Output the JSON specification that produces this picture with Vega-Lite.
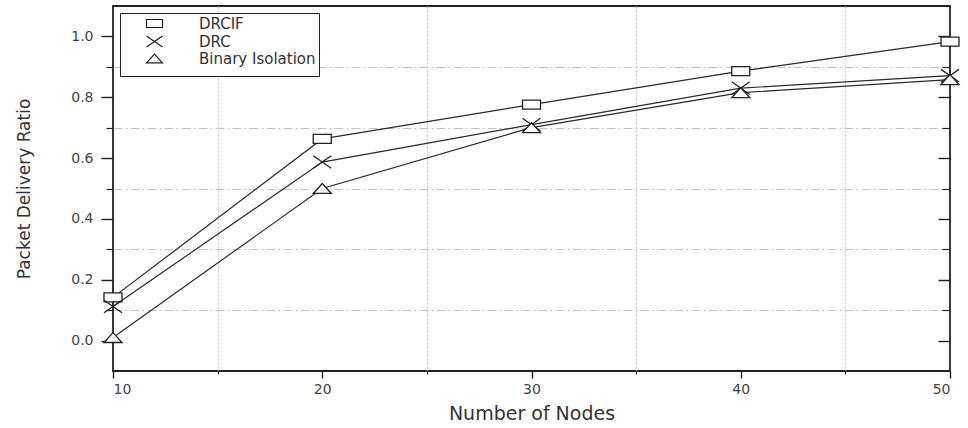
{
  "$schema": "https://vega.github.io/schema/vega-lite/v6.json",
  "width": 837,
  "height": 365,
  "autosize": "none",
  "padding": {"left": 113, "top": 6, "right": 18, "bottom": 57},
  "background": "white",
  "config": {
    "view": {"stroke": "#222", "strokeWidth": 1.8},
    "font": "DejaVu Sans"
  },
  "data": {
    "values": [
      {"n": 10, "series": "DRCIF", "pdr": 0.142},
      {"n": 20, "series": "DRCIF", "pdr": 0.663},
      {"n": 30, "series": "DRCIF", "pdr": 0.776},
      {"n": 40, "series": "DRCIF", "pdr": 0.886},
      {"n": 50, "series": "DRCIF", "pdr": 0.983},
      {"n": 10, "series": "DRC", "pdr": 0.112},
      {"n": 20, "series": "DRC", "pdr": 0.587},
      {"n": 30, "series": "DRC", "pdr": 0.71},
      {"n": 40, "series": "DRC", "pdr": 0.83},
      {"n": 50, "series": "DRC", "pdr": 0.871},
      {"n": 10, "series": "Binary Isolation", "pdr": 0.01},
      {"n": 20, "series": "Binary Isolation", "pdr": 0.5},
      {"n": 30, "series": "Binary Isolation", "pdr": 0.7},
      {"n": 40, "series": "Binary Isolation", "pdr": 0.815},
      {"n": 50, "series": "Binary Isolation", "pdr": 0.858}
    ]
  },
  "layer": [
    {
      "mark": {"type": "line", "color": "#2a2a2a", "strokeWidth": 1.2},
      "encoding": {
        "x": {
          "field": "n", "type": "quantitative",
          "scale": {"domain": [10, 50], "nice": false, "zero": false},
          "axis": {
            "orient": "bottom", "values": [10, 20, 30, 40, 50], "format": "d",
            "grid": false, "domain": false, "tickSize": 7, "tickColor": "#222", "tickWidth": 1.4,
            "labelFontSize": 14, "labelColor": "#444", "labelPadding": 4,
            "title": "Number of Nodes", "titleFontSize": 19, "titleFontWeight": "normal",
            "titleColor": "#333", "titlePadding": 8
          }
        },
        "y": {
          "field": "pdr", "type": "quantitative",
          "scale": {"domain": [-0.1, 1.1], "nice": false, "zero": false},
          "axis": {
            "orient": "left", "values": [0, 0.2, 0.4, 0.6, 0.8, 1.0], "format": ".1f",
            "grid": false, "domain": false, "tickSize": 12, "tickColor": "#222", "tickWidth": 1.4,
            "labelFontSize": 14, "labelColor": "#444", "labelPadding": 8,
            "title": "Packet Delivery Ratio", "titleFontSize": 17, "titleFontWeight": "normal",
            "titleColor": "#333", "titlePadding": 37
          }
        },
        "detail": {"field": "series"}
      }
    },
    {
      "mark": {"type": "point", "fill": "white", "stroke": "#222", "fillOpacity": 1, "strokeWidth": 1.3, "size": 81},
      "encoding": {
        "x": {
          "field": "n", "type": "quantitative",
          "axis": {
            "orient": "bottom", "values": [15, 25, 35, 45], "labels": false, "title": null,
            "domain": false, "tickSize": 3, "tickColor": "#222", "tickWidth": 1.2,
            "grid": true, "gridDash": [2, 2], "gridColor": "#c4c4c4", "gridWidth": 1.2
          }
        },
        "y": {
          "field": "pdr", "type": "quantitative",
          "axis": {
            "orient": "left", "values": [0.1, 0.3, 0.5, 0.7, 0.9], "labels": false, "title": null,
            "domain": false, "tickSize": 7, "tickColor": "#222", "tickWidth": 1.2,
            "grid": true, "gridDash": [9, 3, 2, 3], "gridColor": "#c4c4c4", "gridWidth": 1
          }
        },
        "shape": {
          "field": "series", "type": "nominal",
          "scale": {
            "domain": ["DRCIF", "DRC", "Binary Isolation"],
            "range": ["M-2,-1H2V1H-2Z", "M-2,-1.4L2,1.4M-2,1.4L2,-1.4", "M-2,1.1L0,-1.1L2,1.1Z"]
          },
          "legend": {
            "orient": "none", "legendX": 7, "legendY": 7,
            "title": " ", "titleOrient": "bottom", "titleFontSize": 6, "titlePadding": 0,
            "strokeColor": "#222", "fillColor": "white", "padding": 3,
            "labelFontSize": 15, "labelColor": "#333", "labelFont": "DejaVu Sans",
            "symbolSize": 64, "symbolStrokeWidth": 1.2, "symbolOffset": 24, "labelOffset": 37, "rowPadding": 1,
            "encode": {
              "symbols": {
                "update": {
                  "stroke": {"value": "#222"},
                  "fill": {"value": "white"},
                  "fillOpacity": {"value": 1},
                  "strokeOpacity": {"value": 1},
                  "strokeWidth": {"value": 1.2},
                  "opacity": {"value": 1}
                }
              }
            }
          }
        }
      }
    },
    {
      "mark": {"type": "tick", "opacity": 0},
      "encoding": {
        "x": {"field": "n", "type": "quantitative", "axis": null},
        "y": {
          "field": "pdr", "type": "quantitative",
          "axis": {
            "orient": "right", "values": [0, 0.2, 0.4, 0.6, 0.8, 1.0], "labels": false, "title": null,
            "domain": false, "tickSize": -12, "tickColor": "#222", "tickWidth": 1.4, "grid": false
          }
        }
      }
    },
    {
      "mark": {"type": "tick", "opacity": 0},
      "encoding": {
        "x": {"field": "n", "type": "quantitative", "axis": null},
        "y": {
          "field": "pdr", "type": "quantitative",
          "axis": {
            "orient": "right", "values": [0.1, 0.3, 0.5, 0.7, 0.9], "labels": false, "title": null,
            "domain": false, "tickSize": -8, "tickColor": "#222", "tickWidth": 1.2, "grid": false
          }
        }
      }
    }
  ],
  "resolve": {"axis": {"x": "independent", "y": "independent"}}
}
